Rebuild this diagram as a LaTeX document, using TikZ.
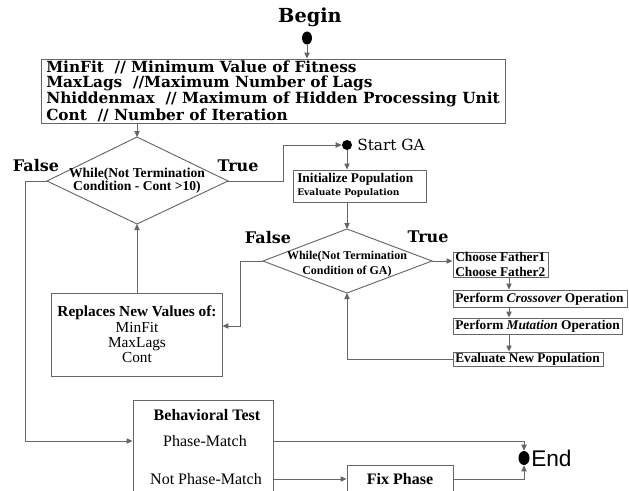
\documentclass[tikz,border=0pt]{standalone}
\usepackage{fontspec}
\setmainfont{Liberation Serif}
\newfontfamily\dvs{DejaVu Serif}
\newfontfamily\lsans{Liberation Sans}
\usetikzlibrary{arrows.meta,shapes.geometric}
\begin{document}
\begin{tikzpicture}[x=0.75pt,y=-0.75pt,
  ln/.style={draw=black!60, line width=0.7pt},
  arr/.style={ln, -{Triangle[length=4.5pt,width=4pt]}},
  boxn/.style={draw=black!60, line width=0.7pt, inner sep=0pt, rectangle},
  dot/.style={fill=black, ellipse, inner sep=0pt},
  txt/.style={inner sep=0pt, text=black},
  sm/.style={txt, font=\bfseries\fontsize{10}{11}\selectfont},
  tf/.style={txt, font=\dvs\bfseries\fontsize{12}{14}\selectfont},
  ]
\useasboundingbox (0,0) rectangle (629,490);
% Begin
\node[txt, font=\dvs\bfseries\fontsize{14.5}{17}\selectfont] (begin) at (310,17) {Begin};
\node[dot, minimum width=7.5pt, minimum height=9.75pt] (bdot) at (307,38) {};
% top box
\node[boxn, minimum width=348pt, minimum height=48pt] (top) at (273,91) {};
\node[txt, align=left, font=\dvs\bfseries\fontsize{11.5}{11.25}\selectfont] (toptxt) at (273,91)
 {MinFit~~// Minimum Value of Fitness\\ MaxLags~~//Maximum Number of Lags\\ Nhiddenmax~~// Maximum of Hidden Processing Unit\\ Cont~~// Number of Iteration};
% diamond 1
\coordinate (d1t) at (137,137);
\coordinate (d1r) at (228,181);
\coordinate (d1b) at (137,224);
\coordinate (d1l) at (47,181);
\draw[ln] (d1t) -- (d1r) -- (d1b) -- (d1l) -- cycle;
\node[txt, align=center, font=\bfseries\fontsize{10.2}{9.75}\selectfont] (d1txt) at (137,181) {While(Not Termination\\Condition - Cont >10)};
\node[tf] (false1) at (36,166) {False};
\node[tf] (true1) at (238,166) {True};
% start GA
\node[dot, minimum width=7.5pt, minimum height=7.5pt] (sdot) at (347,145) {};
\node[txt, anchor=west, font=\dvs\fontsize{11.5}{13}\selectfont] (sga) at (357,145) {Start GA};
% init box
\node[boxn, minimum width=99.75pt, minimum height=24pt] (init) at (359.5,186) {};
\node[sm, anchor=west] (init1) at (297,179) {Initialize Population};
\node[txt, anchor=west, font=\dvs\bfseries\fontsize{6.8}{8}\selectfont] (init2) at (297,193) {Evaluate Population};
% diamond 2
\coordinate (d2t) at (347,229);
\coordinate (d2r) at (432,261);
\coordinate (d2b) at (347,293);
\coordinate (d2l) at (263,261);
\draw[ln] (d2t) -- (d2r) -- (d2b) -- (d2l) -- cycle;
\node[txt, align=center, font=\bfseries\fontsize{9}{11.25}\selectfont] (d2txt) at (347,264) {While(Not Termination\\Condition of GA)};
\node[tf] (false2) at (268,238) {False};
\node[tf] (true2) at (428,237) {True};
% GA boxes
\node[boxn, minimum width=71.25pt, minimum height=18.75pt] (choose) at (500.5,264.5) {};
\node[sm, anchor=west] (ch1) at (455,257) {Choose Father1};
\node[sm, anchor=west] (ch2) at (455,272) {Choose Father2};
\node[boxn, minimum width=130.5pt, minimum height=12.75pt] (cross) at (540,298.5) {};
\node[sm, anchor=west] (crtxt) at (455,299) {Perform \textit{Crossover} Operation};
\node[boxn, minimum width=126.75pt, minimum height=12pt] (mut) at (537.5,326) {};
\node[sm, anchor=west] (mutxt) at (455,326) {Perform \textit{Mutation} Operation};
\node[boxn, minimum width=112.5pt, minimum height=10.5pt] (eval) at (528,359) {};
\node[sm, anchor=west] (evtxt) at (455,359) {Evaluate New Population};
\coordinate (ax) at (509,0);
% replaces box
\node[boxn, minimum width=128.25pt, minimum height=62.25pt] (repl) at (136.5,334.5) {};
\node[txt, font=\bfseries\fontsize{11.5}{13}\selectfont] (r1) at (137,313) {Replaces New Values of:};
\node[txt, anchor=base, font=\fontsize{11.5}{12}\selectfont] (r2) at (137,332) {MinFit};
\node[txt, anchor=base, font=\fontsize{11.5}{12}\selectfont] (r3) at (137,347) {MaxLags};
\node[txt, anchor=base, font=\fontsize{11.5}{12}\selectfont] (r4) at (137,362) {Cont};
\coordinate (rin) at (222,326);
% behavioral box
\node[boxn, minimum width=105pt, minimum height=75pt] (behav) at (203,450) {};
\node[txt, font=\bfseries\fontsize{12}{14}\selectfont] (bt) at (207,415) {Behavioral Test};
\node[txt, font=\fontsize{12}{14}\selectfont] (pm) at (205,441) {Phase-Match};
\node[txt, font=\fontsize{12}{14}\selectfont] (npm) at (206,479) {Not Phase-Match};
\node[boxn, minimum width=79.5pt, minimum height=26.25pt] (fix) at (400,482.5) {};
\node[txt, font=\bfseries\fontsize{12}{14}\selectfont] (fixtxt) at (400,479) {Fix Phase};
% end
\node[dot, minimum width=8.25pt, minimum height=10.5pt] (edot) at (524,458) {};
\node[txt, anchor=west, font=\lsans\fontsize{17}{19}\selectfont] (endtxt) at (531,458) {End};
% connectors
\coordinate (fl) at (25,181);
\coordinate (tr) at (283,181);
\coordinate (fl2) at (240,261);
\draw[arr] (bdot) -- (bdot |- top.north);
\draw[arr] (top.south -| d1t) -- (d1t);
\draw[arr] (d1l) -- (fl) |- (behav.west |- pm);
\draw[arr] (d1r) -- (tr) |- (sdot.west);
\draw[arr] (sdot) -- (sdot |- init.north);
\draw[arr] (sdot |- init.south) -- (d2t);
\draw[arr] (d2r) -- (d2r -| choose.west);
\draw[arr] (choose.south -| ax) -- (cross.north -| ax);
\draw[arr] (cross.south -| ax) -- (mut.north -| ax);
\draw[arr] (mut.south -| ax) -- (eval.north -| ax);
\draw[arr] (eval.west) -- (eval.west -| d2b) -- (d2b);
\draw[arr] (d2l) -- (fl2) |- (repl.east |- rin);
\draw[arr] (repl.north -| d1b) -- (d1b);
\draw[arr] (behav.east |- pm) -| (edot.north);
\draw[arr] (behav.east |- npm) -- (fix.west |- npm);
\draw[arr] (fix.east |- npm) -| (edot.south);
\end{tikzpicture}
\end{document}
